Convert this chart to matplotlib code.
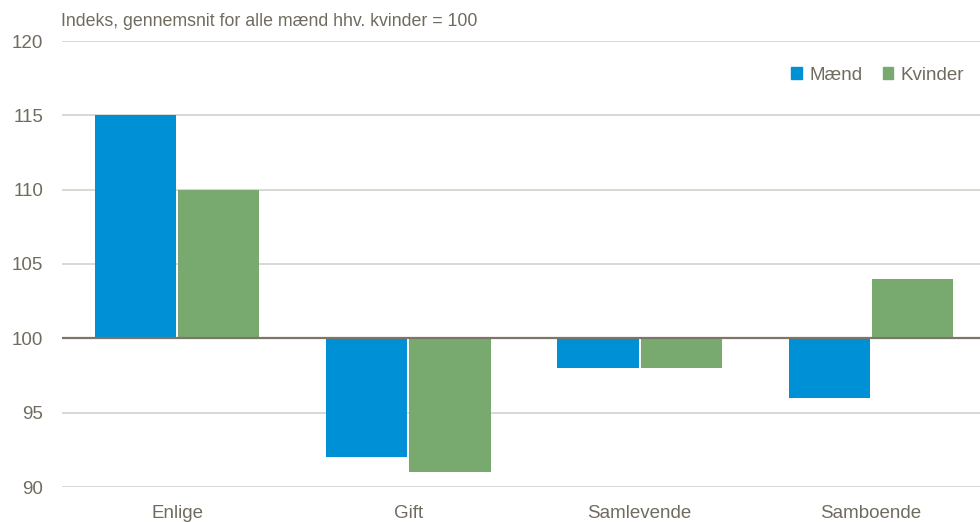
import numpy as np
import matplotlib
matplotlib.use("Agg")
import matplotlib.pyplot as plt

categories = ["Enlige", "Gift", "Samlevende", "Samboende"]
maend = [115, 92, 98, 96]
kvinder = [110, 91, 98, 104]
yticks = [90, 95, 100, 105, 110, 115, 120]

blue = "#0090d5"
green = "#78aa6f"
txt = "#6f6c5f"
grid = "#d3d2cb"

plt.rcParams["font.family"] = ["Liberation Sans", "DejaVu Sans"]

fig = plt.figure(figsize=(9.8, 5.22), dpi=100)
W, H = 980, 522
x0, x1 = 61.5, 986.5
y_top, y_bot = 41, 487
ax = fig.add_axes([x0 / W, 1 - y_bot / H, (x1 - x0) / W, (y_bot - y_top) / H])

x = np.arange(len(categories))
w = 0.352
off = 0.18
base = 100
ax.bar(x - off, np.array(maend) - base, bottom=base, width=w, color=blue, zorder=2)
ax.bar(x + off, np.array(kvinder) - base, bottom=base, width=w, color=green, zorder=2)

ax.set_xlim(-0.5, len(categories) - 0.5)
ax.set_ylim(90, 120)
ax.set_yticks(yticks)
for yv in yticks:
    if yv == 100:
        ax.axhline(yv, color="#7b7667", lw=1.6, zorder=3)
    else:
        ax.axhline(yv, color=grid, lw=1.2, zorder=1)

ax.set_xticks(x)
ax.set_xticklabels(categories)
for s in ax.spines.values():
    s.set_visible(False)
ax.tick_params(axis="both", length=0, labelsize=13.5, colors=txt)
ax.tick_params(axis="y", pad=13)
ax.tick_params(axis="x", pad=13)

fig.text(61 / W, 1 - 22 / H, "Indeks, gennemsnit for alle mænd hhv. kvinder = 100",
         fontsize=12.8, color=txt, va="center", ha="left")

handles = [plt.Rectangle((0, 0), 1, 1, color=blue), plt.Rectangle((0, 0), 1, 1, color=green)]
leg = fig.legend(handles, ["Mænd", "Kvinder"], loc="center right",
                 bbox_to_anchor=(981 / W, 1 - 75 / H), ncol=2, frameon=False,
                 fontsize=13.5, handlelength=0.55, handleheight=0.55, handletextpad=0.4,
                 columnspacing=1.1)
for t in leg.get_texts():
    t.set_color(txt)

fig.savefig("out.png", dpi=100)
